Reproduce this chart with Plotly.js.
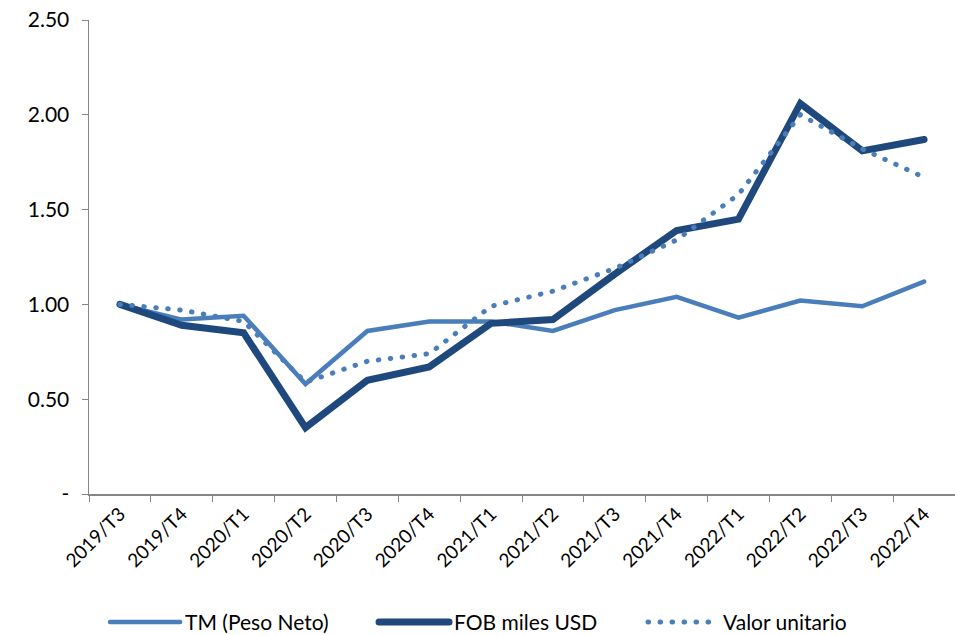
<!DOCTYPE html>
<html><head><meta charset="utf-8">
<script src="https://cdn.plot.ly/plotly-3.0.1.min.js"></script>
<style>body{margin:0;background:#fff}#chart{width:955px;height:635px}</style>
</head><body><div id="chart"></div>
<script>
const categories = ["2019/T3","2019/T4","2020/T1","2020/T2","2020/T3","2020/T4","2021/T1","2021/T2","2021/T3","2021/T4","2022/T1","2022/T2","2022/T3","2022/T4"];
const tmPesoNeto = [1.00,0.92,0.94,0.58,0.86,0.91,0.91,0.86,0.97,1.04,0.93,1.02,0.99,1.12];
const fobMilesUSD = [1.00,0.89,0.85,0.35,0.60,0.67,0.90,0.92,1.16,1.39,1.45,2.06,1.81,1.87];
const valorUnitario = [1.00,0.97,0.91,0.59,0.70,0.74,0.99,1.07,1.19,1.34,1.58,2.00,1.82,1.67];
const yTickVals = [0,0.5,1,1.5,2,2.5];
const yTickText = ["-","0.50","1.00","1.50","2.00","2.50"];
const seriesNames = ["TM (Peso Neto)","FOB miles USD","Valor unitario"];

const FONT = "Lato, 'Open Sans', sans-serif";
const traces = [
  {x:categories, y:tmPesoNeto, name:seriesNames[0], mode:"lines", type:"scatter",
   line:{color:"#4A7EBB", width:4.5}},
  {x:categories, y:fobMilesUSD, name:seriesNames[1], mode:"lines", type:"scatter",
   line:{color:"#1F497D", width:7}},
  {x:categories, y:valorUnitario, name:seriesNames[2], mode:"lines", type:"scatter",
   line:{color:"#4A7EBB", width:5, dash:"0.5px,11.5px"}}
];
const layout = {
  width:955, height:635,
  margin:{l:89, r:0, t:20, b:141},
  paper_bgcolor:"#fff", plot_bgcolor:"#fff",
  font:{family:FONT, color:"#000"},
  showlegend:true,
  legend:{orientation:"h", x:0.11, xref:"container", xanchor:"left",
          y:0.02, yref:"container", yanchor:"middle",
          font:{size:21, family:FONT}, itemwidth:70, entrywidth:184, traceorder:"normal"},
  xaxis:{type:"category", range:[-0.5,13.5], showgrid:false, zeroline:false, automargin:false,
         showline:true, linecolor:"#868686", linewidth:1.5,
         ticks:"outside", tickson:"boundaries", ticklen:6, tickcolor:"#868686",
         tickangle:-45, tickfont:{size:19, family:FONT}},
  yaxis:{range:[0,2.5], showgrid:false, zeroline:false, automargin:false,
         showline:true, linecolor:"#868686", linewidth:1.5,
         ticks:"outside", ticklen:6, tickcolor:"#868686",
         tickvals:yTickVals, ticktext:yTickText, tickfont:{size:21, family:FONT}, ticklabelstandoff:8}
};
Plotly.newPlot("chart", traces, layout, {displayModeBar:false, staticPlot:true}).then(()=>{
  document.querySelectorAll(".scatterlayer .js-line, .legend path").forEach(p=>{p.style.strokeLinecap="round";});
});
</script></body></html>
